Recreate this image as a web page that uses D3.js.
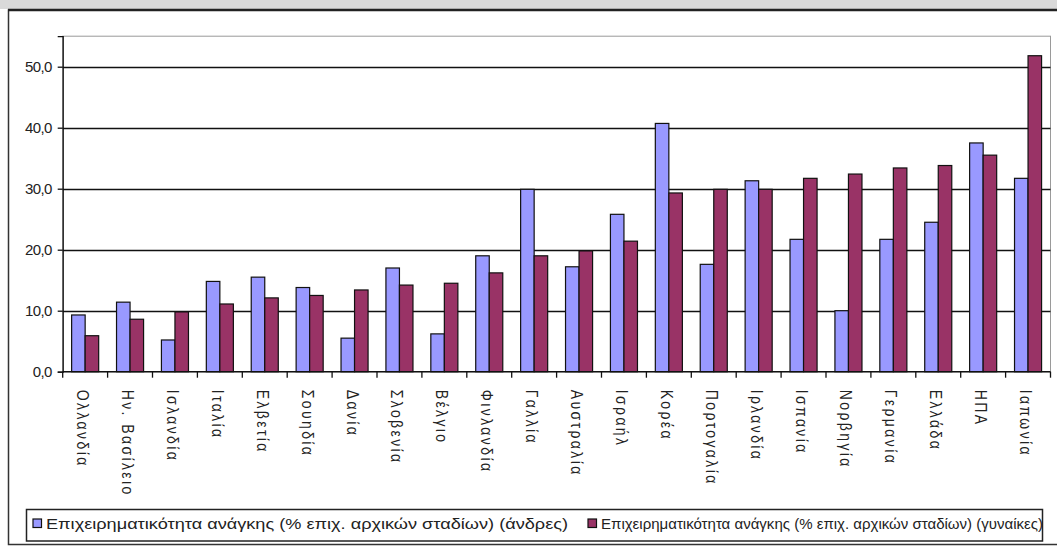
<!DOCTYPE html>
<html>
<head>
<meta charset="utf-8">
<script src="https://cdn.jsdelivr.net/npm/d3@7"></script>
<style>
  html, body { margin: 0; padding: 0; background: #fff; }
  svg { display: block; }
  text { font-family: "Liberation Sans", Arial, sans-serif; fill: #222; }
</style>
</head>
<body>
<svg id="chart" width="1057" height="546"></svg>
<script>
// Countries, ordered by the women's rate
const countries = ["Ολλανδία", "Ην. Βασίλειο", "Ισλανδία", "Ιταλία", "Ελβετία", "Σουηδία", "Δανία",
  "Σλοβενία", "Βέλγιο", "Φινλανδία", "Γαλλία", "Αυστραλία", "Ισραήλ", "Κορέα", "Πορτογαλία",
  "Ιρλανδία", "Ισπανία", "Νορβηγία", "Γερμανία", "Ελλάδα", "ΗΠΑ", "Ιαπωνία"];

// Necessity entrepreneurship (% of early-stage entrepreneurs)
const men   = [9.3, 11.4, 5.2, 14.8, 15.5, 13.8, 5.5, 17.0, 6.2, 19.0, 29.9, 17.2, 25.8, 40.7, 17.6, 31.3, 21.7, 10.0, 21.7, 24.5, 37.5, 31.7];
const women = [5.9, 8.6, 9.8, 11.1, 12.1, 12.5, 13.4, 14.2, 14.5, 16.2, 19.0, 19.8, 21.4, 29.3, 29.9, 29.9, 31.7, 32.4, 33.4, 33.8, 35.5, 51.8];

const seriesNames = [
  "Επιχειρηματικότητα ανάγκης (% επιχ. αρχικών σταδίων) (άνδρες)",
  "Επιχειρηματικότητα ανάγκης (% επιχ. αρχικών σταδίων) (γυναίκες)"
];
const seriesColors = ["#9999FF", "#993366"];

const yTicks = [0, 10, 20, 30, 40, 50];
const yMax = 55;

const svg = d3.select("#chart");
const W = 1057, H = 546;

// outer chart frame
svg.append("rect").attr("x", 0).attr("y", 0).attr("width", W).attr("height", 9).attr("fill", "#d9d9d9");
svg.append("rect").attr("x", 8.5).attr("y", 10).attr("width", W).attr("height", 534.5)
  .attr("fill", "#fff").attr("stroke", "#333").attr("stroke-width", 1.5);
svg.append("line").attr("x1", 8).attr("x2", W).attr("y1", 10).attr("y2", 10)
  .attr("stroke", "#222").attr("stroke-width", 2.5);

const plot = { left: 62.7, right: 1050.5, top: 36, bottom: 371.7 };

const x = d3.scaleBand().domain(countries).range([plot.left, plot.right]).paddingInner(0).paddingOuter(0);
const xs = d3.scaleBand().domain([0, 1]).range([0, x.bandwidth()]).paddingInner(0).paddingOuter(0.66);
const y = d3.scaleLinear().domain([0, yMax]).range([plot.bottom, plot.bottom - yMax * 6.1]);

// plot area border
svg.append("rect")
  .attr("x", plot.left).attr("y", y(yMax))
  .attr("width", plot.right - plot.left).attr("height", plot.bottom - y(yMax))
  .attr("fill", "#fff").attr("stroke", "#9a9a9a").attr("stroke-width", 1);

// gridlines
svg.append("g").selectAll("line").data(yTicks.filter(d => d > 0)).join("line")
  .attr("x1", plot.left).attr("x2", plot.right)
  .attr("y1", d => Math.round(y(d)) + 0.5).attr("y2", d => Math.round(y(d)) + 0.5)
  .attr("stroke", "#111").attr("stroke-width", 1.3);

// bars
const groups = svg.append("g").selectAll("g").data(countries).join("g")
  .attr("transform", d => `translate(${x(d)},0)`);
groups.selectAll("rect")
  .data((d, i) => [men[i], women[i]])
  .join("rect")
  .attr("x", (v, j) => xs(j))
  .attr("width", xs.bandwidth())
  .attr("y", v => y(v))
  .attr("height", v => y(0) - y(v))
  .attr("fill", (v, j) => seriesColors[j])
  .attr("stroke", "#111")
  .attr("stroke-width", 1.2);

// y axis
const yAxis = d3.axisLeft(y).tickValues(yTicks).tickSize(5).tickPadding(6)
  .tickFormat(d => d3.format(".1f")(d).replace(".", ","));
const gy = svg.append("g").attr("transform", `translate(${plot.left},0)`).call(yAxis)
  .attr("font-size", 15).attr("font-family", "Liberation Sans, Arial, sans-serif");
gy.select(".domain").attr("stroke", "#111").attr("stroke-width", 1.3);
gy.selectAll(".tick line").attr("stroke", "#111").attr("stroke-width", 1.3);
gy.selectAll(".tick text").style("font-size", "15px").attr("fill", "#333").attr("letter-spacing", -0.6);

// x axis with ticks between categories
const gx = svg.append("g").attr("transform", `translate(0,${plot.bottom})`);
gx.append("line").attr("x1", plot.left).attr("x2", plot.right).attr("y1", 0).attr("y2", 0)
  .attr("stroke", "#111").attr("stroke-width", 1.5);
gx.selectAll("line.tk").data(countries.concat(["end"])).join("line").attr("class", "tk")
  .attr("x1", (d, i) => plot.left + i * x.step()).attr("x2", (d, i) => plot.left + i * x.step())
  .attr("y1", 0).attr("y2", 6).attr("stroke", "#111").attr("stroke-width", 1.3);
gx.selectAll("text").data(countries).join("text")
  .attr("transform", d => `translate(${x(d) + x.bandwidth() / 2 - 8},18) rotate(90) scale(1,1.15)`)
  .attr("text-anchor", "start")
  .style("font-size", "14px")
  .attr("letter-spacing", 2.4)
  .attr("fill", "#333")
  .text(d => d);

// legend
const lg = svg.append("g");
lg.append("rect").attr("x", 26.5).attr("y", 509.5).attr("width", 1016).attr("height", 31.5)
  .attr("fill", "#fff").attr("stroke", "#222").attr("stroke-width", 1.5);
const legendX = [33, 588];
seriesNames.forEach((name, i) => {
  lg.append("rect").attr("x", legendX[i]).attr("y", 519).attr("width", 8.5).attr("height", 8.5)
    .attr("fill", seriesColors[i]).attr("stroke", "#111").attr("stroke-width", 1.2);
  lg.append("text").attr("x", legendX[i] + 13).attr("y", 529)
    .style("font-size", "14px").attr("fill", "#333")
    .attr("textLength", i === 0 ? 522 : 442).attr("lengthAdjust", "spacingAndGlyphs")
    .text(name);
});
</script>
</body>
</html>
